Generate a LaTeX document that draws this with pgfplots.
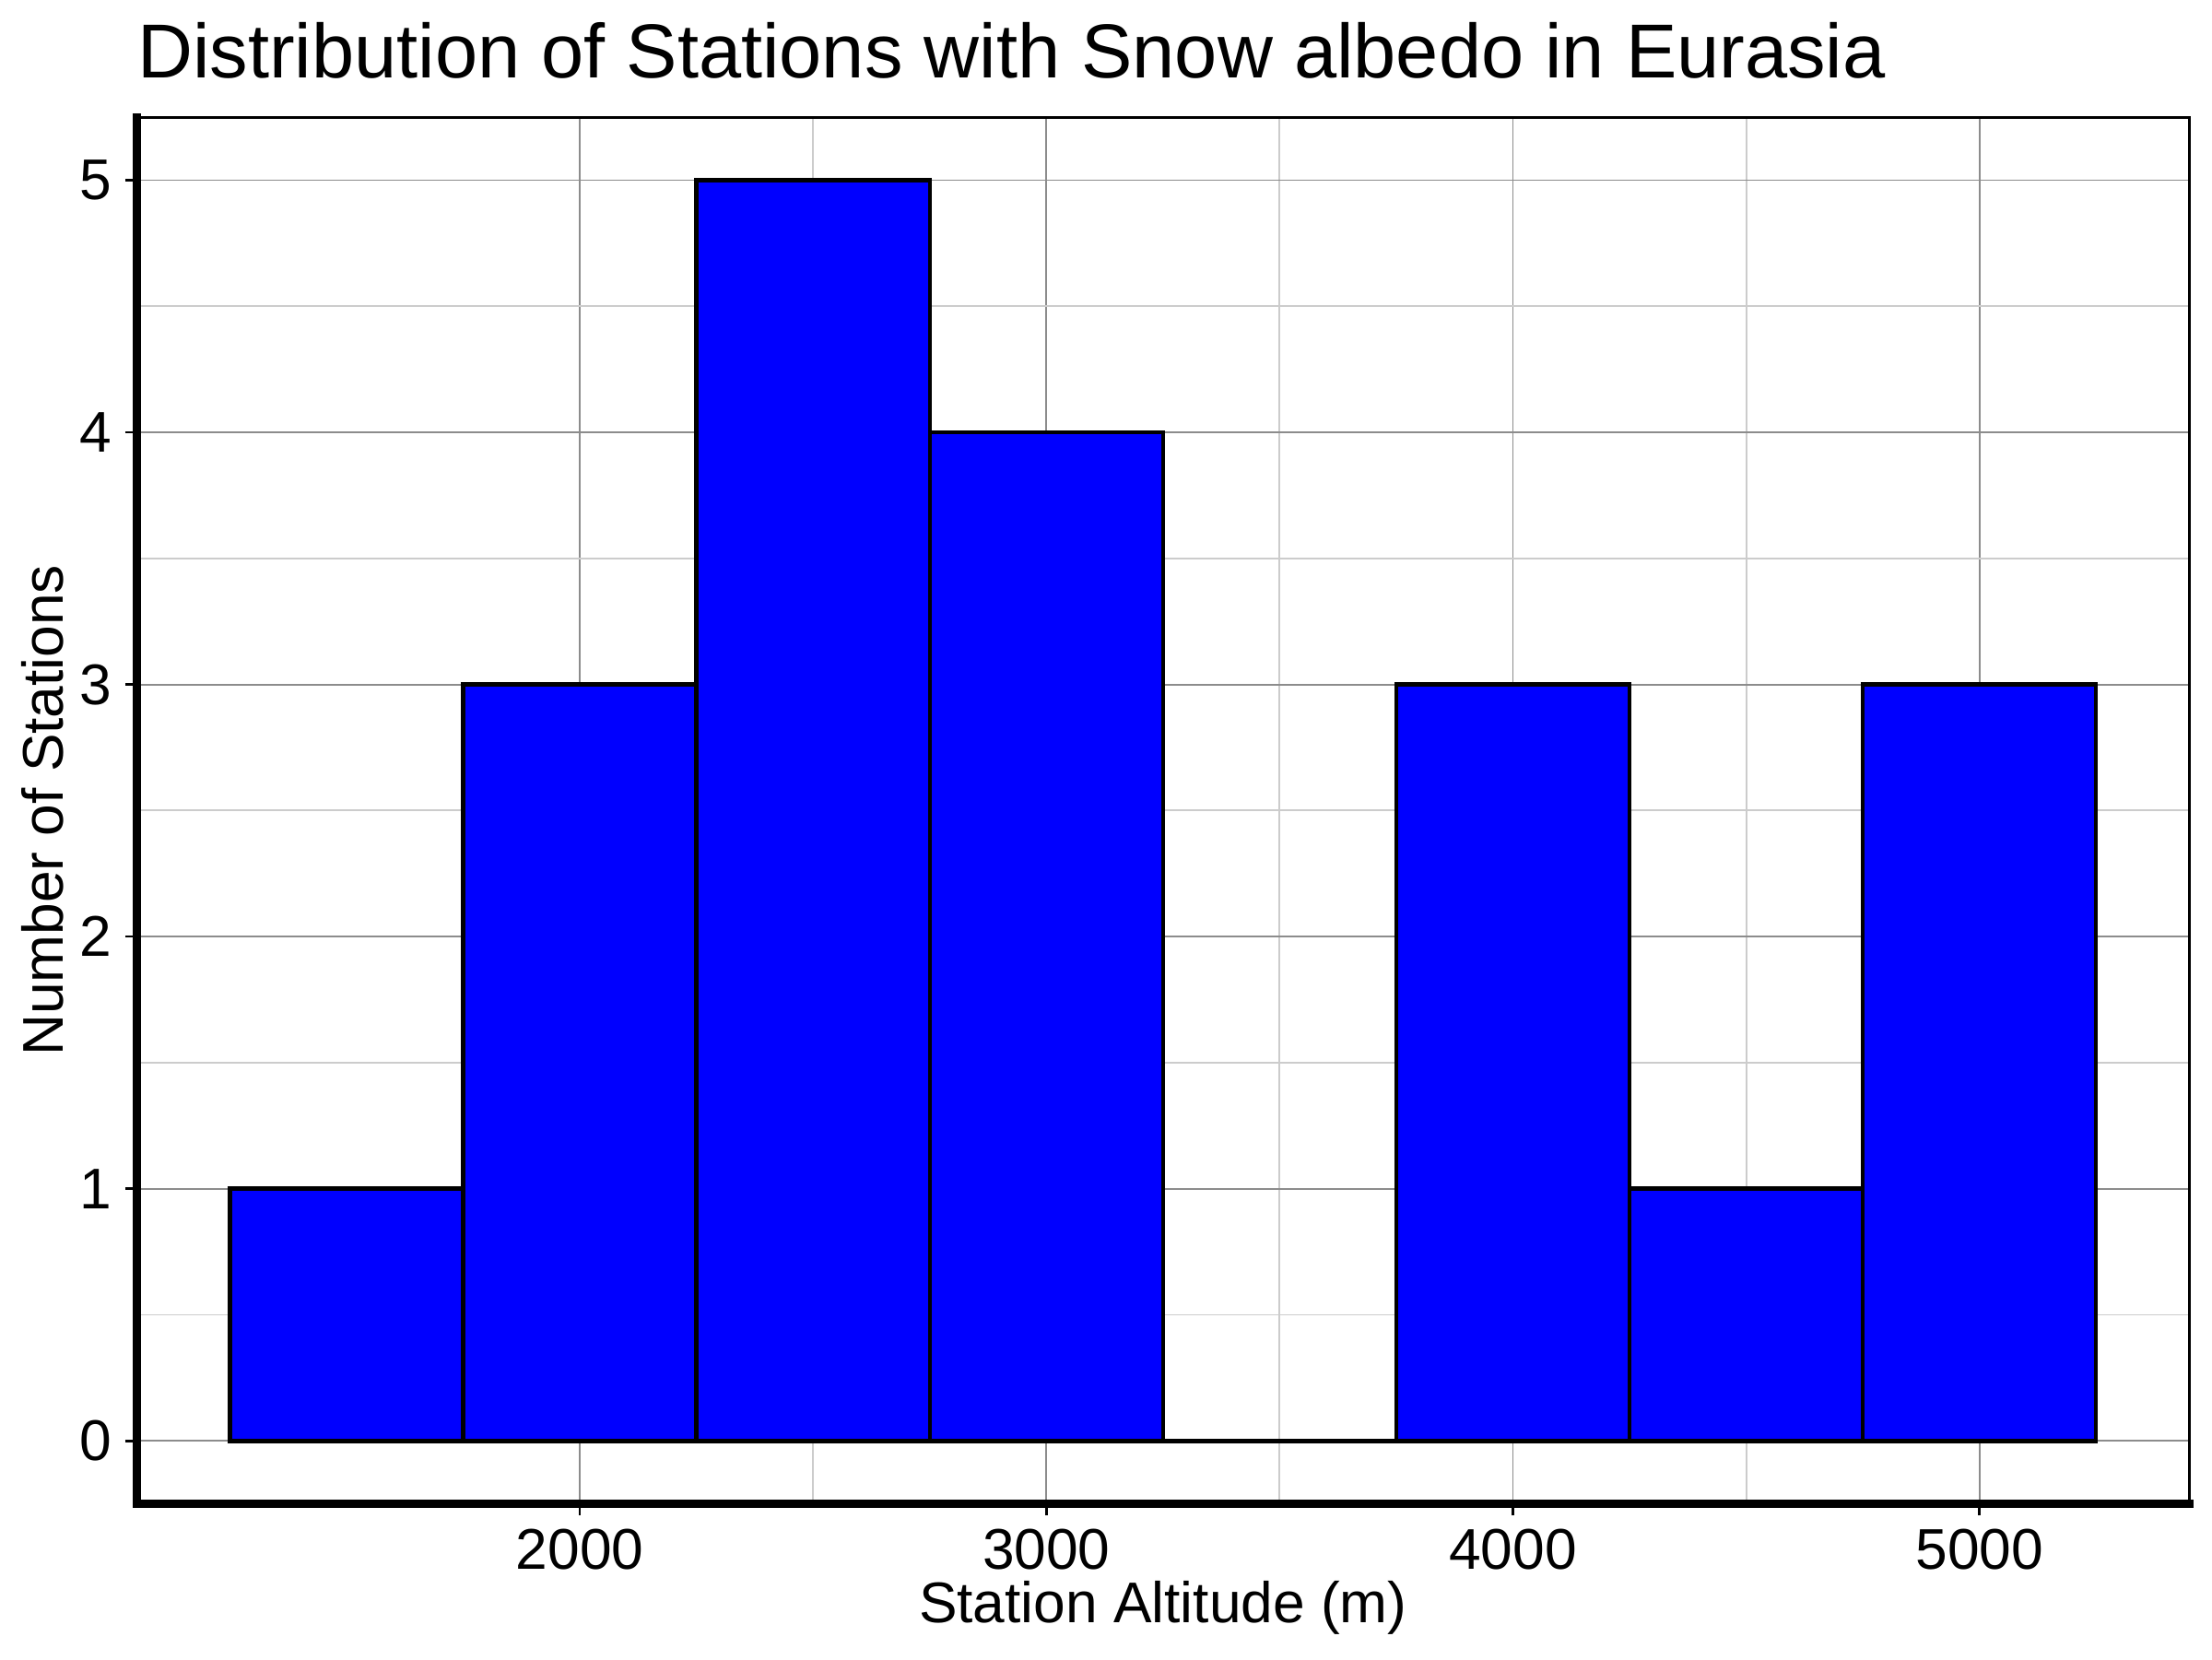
\documentclass[border=0pt]{standalone}
\usepackage{fontspec}
\setmainfont{Liberation Sans}
\usepackage{pgfplots}
\pgfplotsset{compat=1.18}
\begin{document}
\begin{tikzpicture}
\path[use as bounding box] (-35.6bp,-40.4bp) rectangle (540.4bp,391.6bp);
\begin{axis}[
  at={(0,0)}, anchor=south west,
  scale only axis,
  width=534.5bp, height=361.1bp,
  xmin=1050, xmax=5450,
  ymin=-0.25, ymax=5.25,
  xtick={2000,3000,4000,5000},
  ytick={0,1,2,3,4,5},
  minor x tick num=1,
  minor y tick num=1,
  minor tick length=0pt,
  major tick length=3bp,
  tick align=outside,
  tick pos=left,
  tick style={black, line width=0.6bp},
  grid=both,
  major grid style={draw=black!45, line width=0.45bp},
  minor grid style={draw=black!20, line width=0.45bp},
  axis line style={line width=0.7bp},
  /pgf/number format/assume math mode=true,
  /pgf/number format/1000 sep={},
  tick label style={font=\fontsize{15}{18}\selectfont},
  xlabel={Station Altitude (m)},
  ylabel={Number of Stations},
  label style={font=\fontsize{15}{18}\selectfont},
  xlabel style={at={(axis description cs:0.5,0)}, anchor=center, yshift=-27bp},
  ylabel style={at={(axis description cs:-0.046,0.5)}, anchor=center, rotate=0},
  title={Distribution of Stations with Snow albedo in Eurasia},
  title style={at={(axis description cs:0,1)}, anchor=base west, inner sep=0pt, yshift=4.3bp, font=\fontsize{20}{24}\selectfont},
  clip=false,
]
\addplot[ybar interval, fill=blue, draw=black, line width=1.1bp] coordinates {
  (1250,1) (1750,3) (2250,5) (2750,4) (3250,0) (3750,3) (4250,1) (4750,3) (5250,3)
};
\draw[line width=2.2bp, line cap=rect] (rel axis cs:0,1) -- (rel axis cs:0,0) -- (rel axis cs:1,0);
\end{axis}
\end{tikzpicture}
\end{document}
